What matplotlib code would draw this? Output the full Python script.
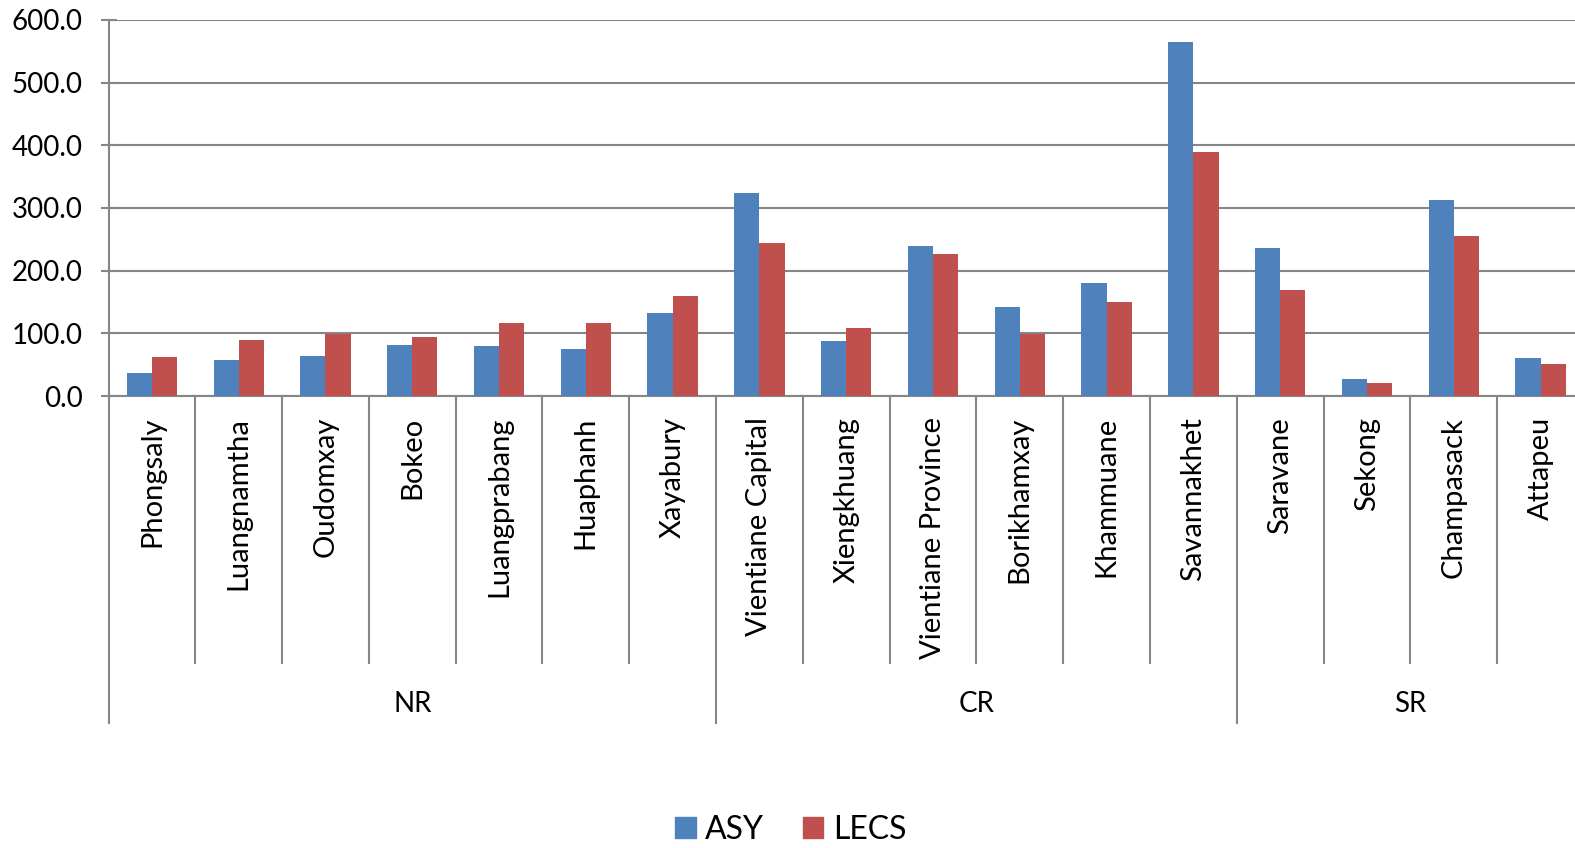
import matplotlib
matplotlib.use("Agg")
import matplotlib.pyplot as plt
import matplotlib.patches as mpatches
import numpy as np

plt.rcParams['font.family'] = ['Lato', 'DejaVu Sans']

provinces = ['Phongsaly', 'Luangnamtha', 'Oudomxay', 'Bokeo', 'Luangprabang',
             'Huaphanh', 'Xayabury', 'Vientiane Capital', 'Xiengkhuang',
             'Vientiane Province', 'Borikhamxay', 'Khammuane', 'Savannakhet',
             'Saravane', 'Sekong', 'Champasack', 'Attapeu']
asy = [36.8, 57.5, 64.5, 81.5, 80.4, 75.1, 132.1, 323.9, 87.4,
       239.2, 142.2, 181.1, 565.3, 236.0, 26.6, 312.7, 60.2]
lecs = [62.3, 89.5, 99.1, 94.3, 117.2, 117.2, 158.8, 243.5, 108.2,
        226.4, 99.6, 149.7, 389.5, 169.4, 20.2, 255.7, 51.1]
regions = ['NR', 'CR', 'SR']
region_sizes = [7, 6, 4]

W, H = 1575, 848
fig = plt.figure(figsize=(W / 100, H / 100), dpi=100)
ax_bottom = 396
ax_top = 20
ax_h = ax_bottom - ax_top
ax = fig.add_axes([108.5 / W, 1 - ax_bottom / H, (1584 - 108.5) / W, ax_h / H])

blue = '#4F81BD'
red = '#C0504D'
grey = '#868686'

x = np.arange(len(provinces))
bw = 0.29
ax.bar(x - bw / 2, asy, bw, color=blue, zorder=3)
ax.bar(x + bw / 2, lecs, bw, color=red, zorder=3)

ax.set_xlim(-0.5, len(provinces) - 0.5)
ax.set_ylim(0, 600)
ax.set_yticks(np.arange(0, 601, 100))
ax.set_yticklabels([f'{v:.1f}' for v in np.arange(0, 601, 100)], fontsize=20)
ax.yaxis.grid(True, color=grey, linewidth=1.5, zorder=0)
ax.tick_params(axis='y', direction='inout', length=11, width=1.5, color=grey, pad=13)

ax.set_xticks(x)
ax.set_xticklabels(provinces, rotation=90, fontsize=21, va='top')
ax.tick_params(axis='x', length=0, pad=15)

for s in ['top', 'right']:
    ax.spines[s].set_visible(False)
for s in ['left', 'bottom']:
    ax.spines[s].set_color(grey)
    ax.spines[s].set_linewidth(1.5)

trans = ax.get_xaxis_transform()
cat_bottom = -(663 - ax_bottom) / ax_h
grp_bottom = -(723 - ax_bottom) / ax_h
label_y = -(704 - ax_bottom) / ax_h

start = 0
group_edges = [-0.5]
for name, n in zip(regions, region_sizes):
    for k in range(start + 1, start + n):
        ax.plot([k - 0.5, k - 0.5], [0, cat_bottom], color=grey, lw=1.5,
                transform=trans, clip_on=False)
    ax.text(start + (n - 1) / 2, label_y, name, transform=trans,
            ha='center', va='center', fontsize=20)
    start += n
    group_edges.append(start - 0.5)
for e in group_edges:
    ax.plot([e, e], [0, grp_bottom], color=grey, lw=1.5,
            transform=trans, clip_on=False)

handles = [mpatches.Patch(color=blue, label='ASY'),
           mpatches.Patch(color=red, label='LECS')]
fig.legend(handles=handles, loc='center', bbox_to_anchor=(0.502, 1 - 830 / H),
           ncol=2, frameon=False, fontsize=23, handlelength=0.65,
           handleheight=0.65, handletextpad=0.3, columnspacing=1.2)

fig.savefig('out.png', dpi=100)
